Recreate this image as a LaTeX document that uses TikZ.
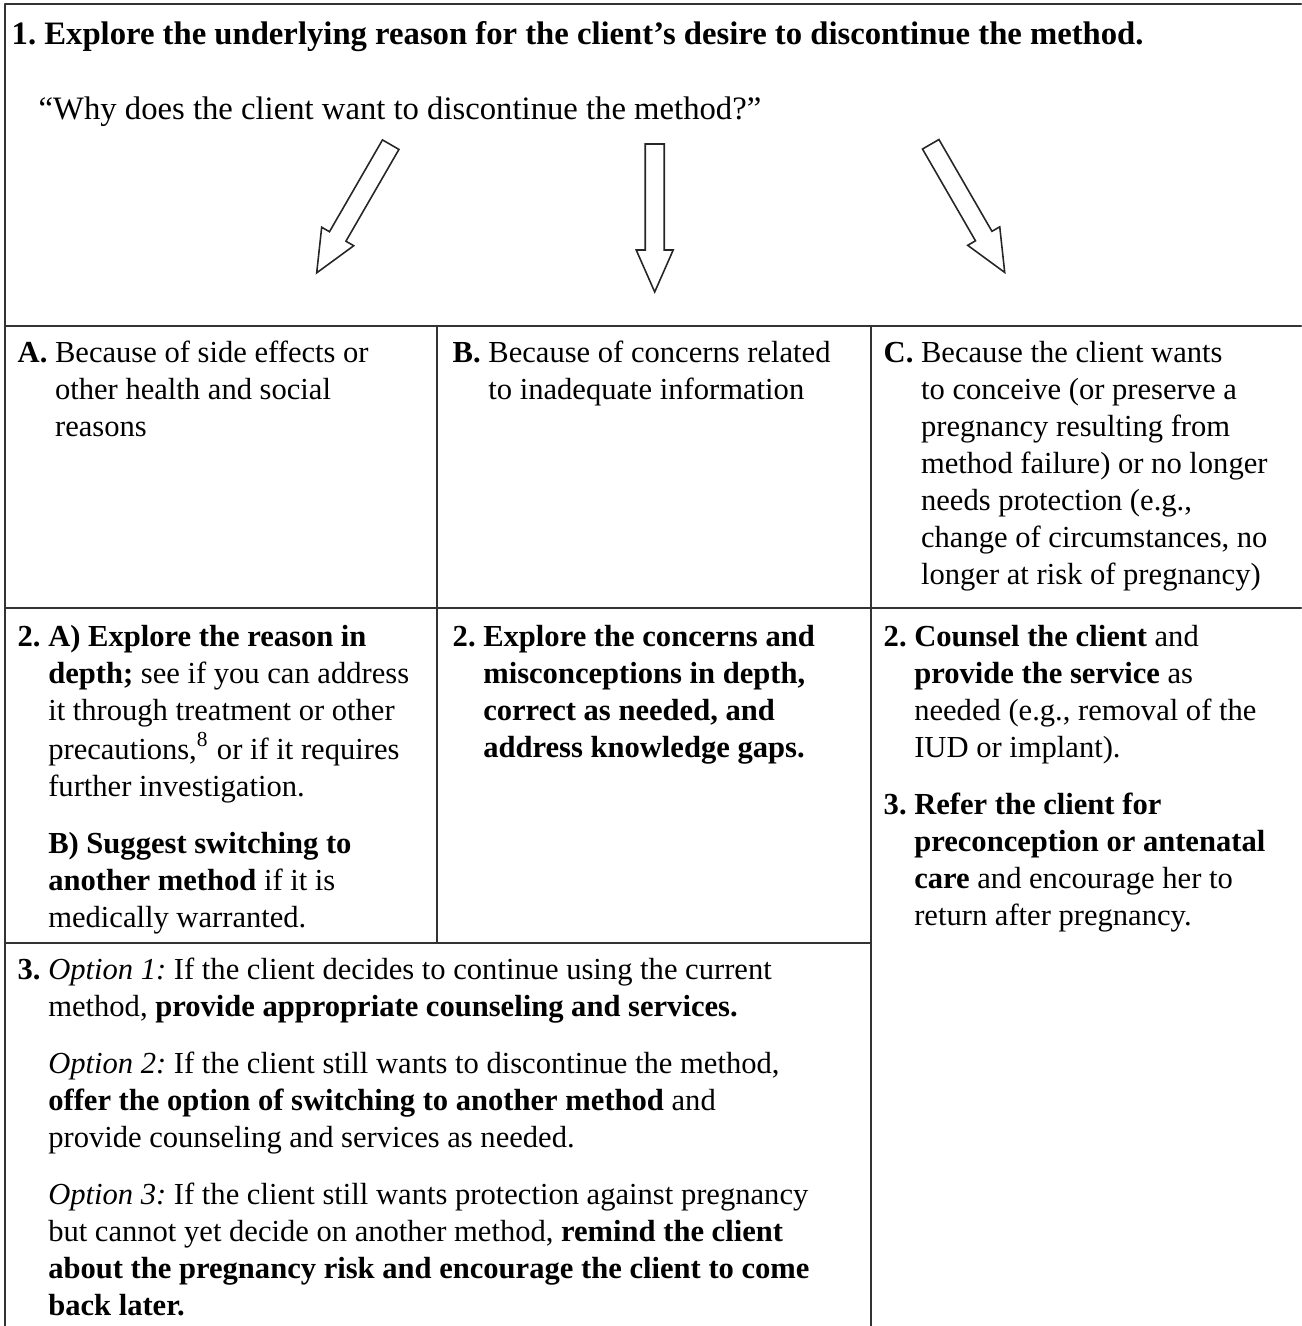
\documentclass[tikz,border=0pt]{standalone}
\usepackage{fontspec}
\setmainfont{Liberation Serif}
\frenchspacing

\newcommand\cellfont{\fontsize{8.7}{10.5}\selectfont}
\newcommand\topfont{\fontsize{9.3}{11}\selectfont}
\newcommand\fatarrow[2]{%
  \draw[fatline, shift={#1}, rotate=#2]
    (0,-0.095) -- (1.06,-0.095) -- (1.06,-0.185) -- (1.48,0)
    -- (1.06,0.185) -- (1.06,0.095) -- (0,0.095) -- cycle;}

\tikzset{
  rule/.style={line width=0.6pt, black!80},
  fatline/.style={line width=0.45pt, black!85, line join=miter},
  cell/.style={anchor=base west, inner sep=0pt, font=\cellfont},
  topcell/.style={cell, font=\topfont},
}

\begin{document}
\begin{tikzpicture}[x=1.0cm,y=1.0cm,line cap=round,line join=round]
  \useasboundingbox (0,0) rectangle (13.01,13.26);

  % table rules
  \draw[rule] (13.01,13.22) -- (0.05,13.22) -- (0.05,0);
  \draw[rule] (0.05,10.00) -- (13.01,10.00);
  \draw[rule] (0.05,7.18) -- (13.01,7.18);
  \draw[rule] (0.05,3.83) -- (8.71,3.83);
  \draw[rule] (4.37,10.00) -- (4.37,3.83);
  \draw[rule] (8.71,10.00) -- (8.71,0);

  % step 1
  \node[topcell] (title) at (0.11,12.81)
    {\textbf{1. Explore the underlying reason for the client's desire to discontinue the method.}};
  \node[topcell] (question) at (0.38,12.06)
    {``Why does the client want to discontinue the method?''};

  % open arrows
  \fatarrow{(3.907,11.813)}{240}
  \fatarrow{(6.547,11.820)}{270}
  \fatarrow{(9.307,11.817)}{300}

  % reasons
  \node[cell] (reasonA) at (0.17,9.63) {\begin{tabular}[t]{@{}l@{\ }l@{}}
    \textbf{A.} & Because of side effects or\\
    & other health and social\\
    & reasons
  \end{tabular}};
  \node[cell] (reasonB) at (4.52,9.63) {\begin{tabular}[t]{@{}l@{\ }l@{}}
    \textbf{B.} & Because of concerns related\\
    & to inadequate information
  \end{tabular}};
  \node[cell] (reasonC) at (8.83,9.63) {\begin{tabular}[t]{@{}l@{\ }l@{}}
    \textbf{C.} & Because the client wants\\
    & to conceive (or preserve a\\
    & pregnancy resulting from\\
    & method failure) or no longer\\
    & needs protection (e.g.,\\
    & change of circumstances, no\\
    & longer at risk of pregnancy)
  \end{tabular}};

  % step 2
  \node[cell] (stepA) at (0.17,6.79) {\begin{tabular}[t]{@{}l@{\ }l@{}}
    \textbf{2.} & \textbf{A) Explore the reason in}\\
    & \textbf{depth;} see if you can address\\
    & it through treatment or other\\
    & precautions,\textsuperscript{8} or if it requires\\
    & further investigation.\\[0.2cm]
    & \textbf{B) Suggest switching to}\\
    & \textbf{another method} if it is\\
    & medically warranted.
  \end{tabular}};
  \node[cell] (stepB) at (4.52,6.79) {\begin{tabular}[t]{@{}l@{\ }l@{}}
    \textbf{2.} & \textbf{Explore the concerns and}\\
    & \textbf{misconceptions in depth,}\\
    & \textbf{correct as needed, and}\\
    & \textbf{address knowledge gaps.}
  \end{tabular}};
  \node[cell] (stepC) at (8.83,6.79) {\begin{tabular}[t]{@{}l@{\ }l@{}}
    \textbf{2.} & \textbf{Counsel the client} and\\
    & \textbf{provide the service} as\\
    & needed (e.g., removal of the\\
    & IUD or implant).\\[0.2cm]
    \textbf{3.} & \textbf{Refer the client for}\\
    & \textbf{preconception or antenatal}\\
    & \textbf{care} and encourage her to\\
    & return after pregnancy.
  \end{tabular}};

  % step 3
  \node[cell] (options) at (0.17,3.46) {\begin{tabular}[t]{@{}l@{\ }l@{}}
    \textbf{3.} & \textit{Option 1:} If the client decides to continue using the current\\
    & method, \textbf{provide appropriate counseling and services.}\\[0.2cm]
    & \textit{Option 2:} If the client still wants to discontinue the method,\\
    & \textbf{offer the option of switching to another method} and\\
    & provide counseling and services as needed.\\[0.2cm]
    & \textit{Option 3:} If the client still wants protection against pregnancy\\
    & but cannot yet decide on another method, \textbf{remind the client}\\
    & \textbf{about the pregnancy risk and encourage the client to come}\\
    & \textbf{back later.}
  \end{tabular}};
\end{tikzpicture}
\end{document}
